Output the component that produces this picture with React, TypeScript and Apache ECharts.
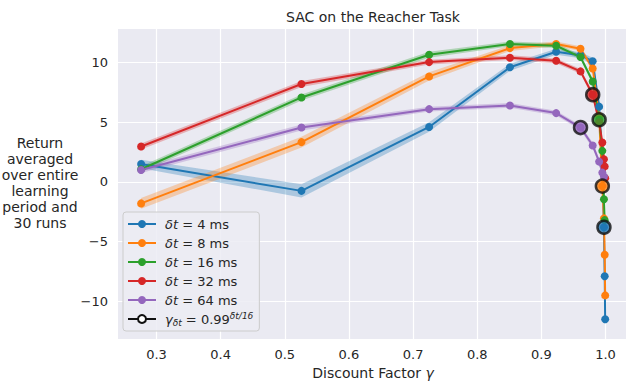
import React, { useEffect, useRef } from 'react';
import * as echarts from 'echarts';

// Discount factors used in the sweep (x values)
const gammas = [0.276, 0.526, 0.725, 0.851, 0.923, 0.961, 0.98, 0.99, 0.995, 0.9975, 0.9987, 0.9994];

const seriesNames = ['δt = 4 ms', 'δt = 8 ms', 'δt = 16 ms', 'δt = 32 ms', 'δt = 64 ms'];
const gammaLegendName = 'γδt = 0.99^(δt/16)';

// Mean returns per time step (null = not measured)
const ret4 = [1.5, -0.75, 4.6, 9.6, 10.9, 10.6, 10.1, 6.3, 1.7, -3.8, -7.9, -11.5];
const ret8 = [-1.8, 3.33, 8.83, 11.2, 11.55, 11.15, 9.5, 5.5, -0.35, -3.05, -6.1, -9.5];
const ret16 = [1.06, 7.07, 10.65, 11.55, 11.4, 10.45, 8.4, 5.2, 2.6, -1.45, -3.2, null];
const ret32 = [2.96, 8.2, 10.03, 10.4, 10.14, 9.25, 7.3, 5.0, 3.3, 1.9, 1.3, 0.3];
const ret64 = [1.0, 4.55, 6.09, 6.4, 5.76, 4.55, 3.05, 1.7, 0.78, 0.45, null, null];

// Half-width of the shaded confidence bands
const err4 = [0.35, 0.55, 0.4, 0.3, 0.25, 0.25, 0.3, 0.3, 0.3, 0.3, 0.3, 0.3];
const err8 = [0.45, 0.45, 0.35, 0.25, 0.2, 0.2, 0.25, 0.3, 0.3, 0.3, 0.3, 0.3];
const err16 = [0.25, 0.25, 0.25, 0.2, 0.2, 0.2, 0.25, 0.25, 0.25, 0.25, 0.25, 0.25];
const err32 = [0.25, 0.25, 0.2, 0.2, 0.2, 0.2, 0.25, 0.25, 0.25, 0.25, 0.25, 0.25];
const err64 = [0.25, 0.25, 0.2, 0.2, 0.2, 0.2, 0.25, 0.25, 0.25, 0.25, 0.25, 0.25];

// Highlighted points gamma = 0.99^(δt/16), in the order of seriesNames
const bigGammas = [0.9975, 0.995, 0.99, 0.98, 0.961];
const bigReturns = [-3.8, -0.35, 5.2, 7.3, 4.55];

const COLORS = ['#1f77b4', '#ff7f0e', '#2ca02c', '#d62728', '#9467bd'];
const FONT = 'DejaVu Sans';
const TEXT = '#262626';

const allRets = [ret4, ret8, ret16, ret32, ret64];
const allErrs = [err4, err8, err16, err32, err64];

function bandSeries(vals: (number | null)[], errs: number[], color: string) {
  return {
    type: 'custom',
    coordinateSystem: 'cartesian2d',
    silent: true,
    z: 2,
    data: [[gammas[0], vals[0]]],
    renderItem: (_params: any, api: any) => {
      const upper: number[][] = [];
      const lower: number[][] = [];
      gammas.forEach((g, i) => {
        const v = vals[i];
        if (v == null) return;
        upper.push(api.coord([g, v + errs[i]]));
        lower.push(api.coord([g, v - errs[i]]));
      });
      return {
        type: 'polygon',
        shape: { points: upper.concat(lower.reverse()) },
        style: { fill: color, opacity: 0.3 },
      };
    },
  };
}

function lineSeries(name: string, vals: (number | null)[], color: string) {
  const data: number[][] = [];
  gammas.forEach((g, i) => {
    const v = vals[i];
    if (v != null) data.push([g, v]);
  });
  return {
    type: 'line',
    name,
    data,
    z: 2,
    symbol: 'circle',
    symbolSize: 8,
    showSymbol: true,
    lineStyle: { width: 2, color },
    itemStyle: { color },
    emphasis: { disabled: true },
  };
}

export default function App() {
  const ref = useRef<HTMLDivElement>(null);

  useEffect(() => {
    if (!ref.current) return;
    const chart = echarts.init(ref.current, undefined, { renderer: 'svg' });

    const series: any[] = [];
    allRets.forEach((r, k) => {
      series.push(bandSeries(r, allErrs[k], COLORS[k]));
      series.push(lineSeries(seriesNames[k], r, COLORS[k]));
    });
    series.push({
      type: 'line',
      name: gammaLegendName,
      data: [],
      symbol: 'circle',
      lineStyle: { color: '#111111', width: 2 },
      itemStyle: { color: '#ffffff', borderColor: '#111111', borderWidth: 2 },
    });
    series.push({
      type: 'scatter',
      z: 5,
      symbolSize: 13,
      silent: true,
      data: bigGammas.map((g, i) => ({
        value: [g, bigReturns[i]],
        itemStyle: { color: COLORS[i], borderColor: '#111111', borderWidth: 2.5 },
      })),
    });

    const option: any = {
      animation: false,
      grid: {
        left: 118,
        top: 29,
        width: 510,
        height: 310,
        show: true,
        backgroundColor: '#EAEAF2',
        borderWidth: 0,
        outerBoundsMode: 'none',
      },
      xAxis: {
        type: 'value',
        min: 0.24,
        max: 1.035,
        minInterval: 0.1,
        maxInterval: 0.1,
        splitNumber: 8,
        axisLine: { show: false },
        axisTick: { show: false },
        splitLine: { show: true, showMinLine: false, showMaxLine: false, lineStyle: { color: '#ffffff', width: 1.2 } },
        axisLabel: {
          showMinLabel: false,
          showMaxLabel: false,
          margin: 9,
          color: TEXT,
          fontFamily: FONT,
          fontSize: 13,
          formatter: (v: number) => v.toFixed(1),
        },
        name: 'Discount Factor {i|γ}',
        nameLocation: 'middle',
        nameGap: 27,
        nameTextStyle: {
          color: TEXT,
          fontFamily: FONT,
          fontSize: 14,
          rich: { i: { fontStyle: 'italic', fontFamily: FONT, fontSize: 14, color: TEXT } },
        },
      },
      yAxis: {
        type: 'value',
        min: -13.15,
        max: 12.8,
        minInterval: 5,
        maxInterval: 5,
        splitNumber: 5,
        axisLine: { show: false },
        axisTick: { show: false },
        splitLine: { show: true, showMinLine: false, showMaxLine: false, lineStyle: { color: '#ffffff', width: 1.2 } },
        axisLabel: {
          showMinLabel: false,
          showMaxLabel: false,
          margin: 10,
          color: TEXT,
          fontFamily: FONT,
          fontSize: 13,
          formatter: (v: number) => {
            const r = Math.round(v);
            return r < 0 ? '\u2212' + Math.abs(r) : String(r);
          },
        },
      },
      legend: {
        orient: 'vertical',
        left: 123,
        top: 212,
        data: [...seriesNames, gammaLegendName],
        itemWidth: 28,
        itemHeight: 10,
        itemGap: 3,
        padding: [4, 6, 4, 4],
        selectedMode: false,
        backgroundColor: 'rgba(236,236,243,0.85)',
        borderColor: '#cccccc',
        borderWidth: 1,
        borderRadius: 3,
        textStyle: {
          color: TEXT,
          fontFamily: FONT,
          fontSize: 13,
          lineHeight: 16,
          padding: [0, 0, 0, 4],
          rich: {
            i: { fontStyle: 'italic', fontFamily: FONT, fontSize: 13, lineHeight: 16, color: TEXT },
            n: { fontFamily: FONT, fontSize: 13, lineHeight: 16, color: TEXT },
            sub: { fontStyle: 'italic', fontFamily: FONT, fontSize: 9, lineHeight: 16, verticalAlign: 'bottom', color: TEXT, padding: [4, 0, 0, 0] },
            sup: { fontStyle: 'italic', fontFamily: FONT, fontSize: 9, lineHeight: 16, verticalAlign: 'top', color: TEXT, padding: [0, 0, 6, 0] },
          },
        },
        formatter: (name: string) => {
          if (name === gammaLegendName) return '{i|γ}{sub|δt}{n| = 0.99}{sup|δt/16}';
          return name.replace('δt', '{i|δt}');
        },
      },
      graphic: [
        {
          type: 'text',
          x: 373,
          y: 17,
          silent: true,
          style: {
            text: 'SAC on the Reacher Task',
            align: 'center',
            verticalAlign: 'middle',
            fontFamily: FONT,
            fontSize: 14,
            fill: TEXT,
          },
        },
        {
          type: 'text',
          x: 40,
          y: 183,
          silent: true,
          style: {
            text: 'Return\naveraged\nover entire\nlearning\nperiod and\n30 runs',
            align: 'center',
            verticalAlign: 'middle',
            fontFamily: FONT,
            fontSize: 14,
            lineHeight: 16,
            fill: TEXT,
          },
        },
      ],
      series,
    };

    chart.setOption(option);
    return () => chart.dispose();
  }, []);

  return (
    <div
      ref={ref}
      style={{ position: 'fixed', left: 0, top: 0, width: 626, height: 381, background: '#ffffff' }}
    />
  );
}
